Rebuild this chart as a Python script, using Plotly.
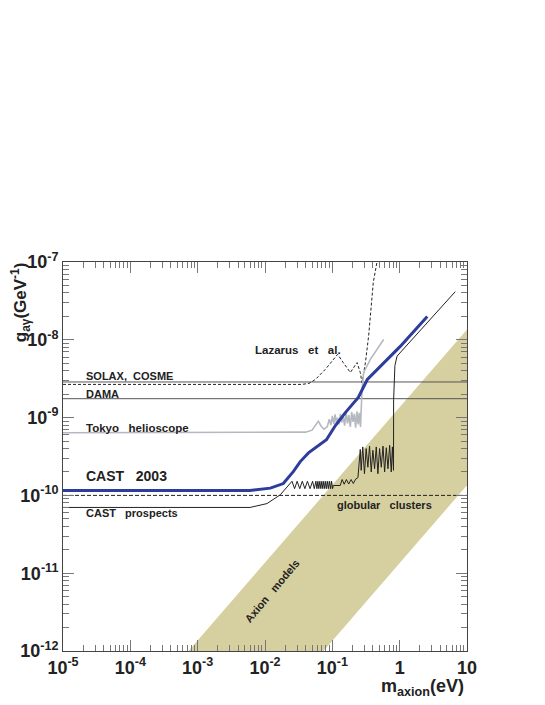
import plotly.graph_objects as go

# axion band corners (m in eV, g in GeV^-1)
band_m = [7.3e-4, 10, 10, 0.074, 7.3e-4]
band_g = [1e-12, 1.36e-8, 1.35e-10, 1e-12, 1e-12]

# horizontal limits
m_full = [1e-5, 10]
solax_g = [2.87e-9, 2.87e-9]
dama_g = [1.75e-9, 1.75e-9]
globular_g = [1.0e-10, 1.0e-10]

# Lazarus et al. (dashed)
laz_m = [1e-5, 0.035, 0.045, 0.056, 0.0785, 0.12, 0.145, 0.185, 0.233, 0.26, 0.276, 0.31, 0.346, 0.406, 0.47]
laz_g = [2.67e-9, 2.67e-9, 2.75e-9, 3.09e-9, 4.16e-9, 6.5e-9, 5.1e-9, 3.8e-9, 5.1e-9, 3.8e-9, 2.8e-9, 5.1e-9, 1.12e-8, 5.5e-8, 1.1e-7]

# Tokyo helioscope (gray)
tokyo_m = [1e-5, 0.03, 0.04, 0.05, 0.058, 0.062, 0.068, 0.075, 0.084, 0.09, 0.095, 0.1, 0.105,
           0.11, 0.115, 0.12, 0.126, 0.132, 0.138, 0.145, 0.152, 0.16, 0.168, 0.176, 0.185,
           0.194, 0.203, 0.212, 0.222, 0.232, 0.242, 0.252, 0.262, 0.27, 0.276, 0.292, 0.367, 0.578]
tokyo_g = [6.4e-10, 6.4e-10, 6.5e-10, 6.9e-10, 8.2e-10, 9.0e-10, 7.8e-10, 7.1e-10, 7.6e-10, 9.5e-10,
           8.0e-10, 1.05e-9, 8.3e-10, 1.1e-9, 8.5e-10, 1.0e-9, 8.2e-10, 1.12e-9, 8.6e-10, 1.05e-9,
           7.9e-10, 1.15e-9, 8.4e-10, 1.08e-9, 7.6e-10, 1.18e-9, 8.8e-10, 1.12e-9, 7.4e-10, 1.2e-9,
           8.2e-10, 1.15e-9, 7.6e-10, 1.3e-9, 2.3e-9, 3.8e-9, 5.6e-9, 1.01e-8]

# CAST 2003 result (blue)
cast_m = [1e-5, 6.0e-3, 0.012, 0.0187, 0.0263, 0.0334, 0.0442, 0.0817, 0.111, 0.156, 0.243, 0.331, 1.02, 2.57]
cast_g = [1.16e-10, 1.16e-10, 1.24e-10, 1.42e-10, 2.02e-10, 2.72e-10, 3.52e-10, 5.2e-10, 7.9e-10,
          1.16e-9, 1.82e-9, 3.09e-9, 8.22e-9, 2.0e-8]

# CAST prospects (thin black)
pros_m = [1e-5, 6.0e-3, 0.0107, 0.0169, 0.0252, 0.0275, 0.0300, 0.0328, 0.0358, 0.0391, 0.0427,
          0.0466, 0.0509, 0.0540, 0.0570, 0.0590, 0.0610, 0.0630, 0.0652, 0.0675, 0.0698, 0.0722,
          0.0746, 0.0772, 0.0798, 0.0825, 0.0853, 0.0882, 0.0912, 0.0943, 0.0975, 0.1008, 0.1035,
          0.131, 0.14, 0.15, 0.162, 0.175, 0.19, 0.205, 0.222, 0.24, 0.26, 0.268, 0.283, 0.30,
          0.318, 0.337, 0.357, 0.378, 0.40, 0.424, 0.449, 0.475, 0.503, 0.533, 0.565, 0.598,
          0.633, 0.67, 0.71, 0.75, 0.78, 0.81, 0.813, 0.85, 0.915, 1.12, 6.7]
pros_g = [7.0e-11, 7.0e-11, 7.85e-11, 1.02e-10, 1.52e-10, 1.22e-10, 1.52e-10, 1.22e-10, 1.52e-10,
          1.22e-10, 1.52e-10, 1.22e-10, 1.52e-10, 1.22e-10, 1.52e-10, 1.22e-10, 1.52e-10, 1.22e-10,
          1.52e-10, 1.22e-10, 1.52e-10, 1.22e-10, 1.52e-10, 1.22e-10, 1.52e-10, 1.22e-10, 1.52e-10,
          1.22e-10, 1.52e-10, 1.22e-10, 1.52e-10, 1.22e-10, 1.34e-10,
          1.34e-10, 1.6e-10, 1.39e-10, 1.6e-10, 1.4e-10, 1.6e-10, 1.42e-10, 1.62e-10, 1.69e-10,
          3.9e-10, 2.1e-10, 4.2e-10, 1.9e-10, 4.0e-10, 2.3e-10, 4.3e-10, 2.0e-10, 3.8e-10, 2.2e-10,
          4.2e-10, 1.9e-10, 4.0e-10, 2.3e-10, 4.3e-10, 2.0e-10, 4.1e-10, 2.2e-10, 4.4e-10, 2.0e-10,
          4.2e-10, 2.1e-10, 1.7e-9, 4.67e-9, 6.17e-9, 7.5e-9, 4.16e-8]

x_ticks = [1e-5, 1e-4, 1e-3, 1e-2, 1e-1, 1, 10]
x_labels = ["10<sup>-5</sup>", "10<sup>-4</sup>", "10<sup>-3</sup>", "10<sup>-2</sup>", "10<sup>-1</sup>", "1", "10"]
y_ticks = [1e-12, 1e-11, 1e-10, 1e-9, 1e-8, 1e-7]
y_labels = ["10<sup>-12</sup>", "10<sup>-11</sup>", "10<sup>-10</sup>", "10<sup>-9</sup>", "10<sup>-8</sup>", "10<sup>-7</sup>"]

FONT = "Liberation Sans"
TXT = "#222222"

fig = go.Figure()
fig.add_trace(go.Scatter(x=band_m, y=band_g, fill="toself", fillcolor="#d6cf9f",
                         mode="lines", line=dict(width=0, color="#d6cf9f"), hoverinfo="skip"))
fig.add_trace(go.Scatter(x=m_full, y=solax_g, mode="lines", line=dict(color="#555555", width=1)))
fig.add_trace(go.Scatter(x=m_full, y=dama_g, mode="lines", line=dict(color="#555555", width=1)))
fig.add_trace(go.Scatter(x=m_full, y=globular_g, mode="lines", line=dict(color="#222222", width=1, dash="4px,2px")))
fig.add_trace(go.Scatter(x=laz_m, y=laz_g, mode="lines", line=dict(color="#222222", width=1, dash="3px,2px")))
fig.add_trace(go.Scatter(x=tokyo_m, y=tokyo_g, mode="lines", line=dict(color="#b4b8c0", width=1.6)))
fig.add_trace(go.Scatter(x=pros_m, y=pros_g, mode="lines", line=dict(color="#222222", width=1)))
fig.add_trace(go.Scatter(x=cast_m, y=cast_g, mode="lines", line=dict(color="#2e3c9c", width=3)))

minor_x = [k * 10.0 ** e for e in range(-5, 1) for k in range(2, 10)]
minor_y = [k * 10.0 ** e for e in range(-12, -7) for k in range(2, 10)]

axis_common = dict(showline=True, linecolor="#444444", linewidth=1, mirror="ticks",
                   ticks="inside", ticklen=11, tickcolor="#777777", tickwidth=1,
                   showgrid=False, zeroline=False,
                   tickfont=dict(family=FONT, size=18, color=TXT, weight="bold"))

fig.update_xaxes(type="log", range=[-5, 1], tickmode="array", tickvals=x_ticks, ticktext=x_labels,
                 minor=dict(tickmode="array", tickvals=minor_x, ticks="inside", ticklen=6,
                            tickcolor="#777777", showgrid=False),
                 **axis_common)
fig.update_yaxes(type="log", range=[-12, -7], tickmode="array", tickvals=y_ticks, ticktext=y_labels,
                 minor=dict(tickmode="array", tickvals=minor_y, ticks="inside", ticklen=6,
                            tickcolor="#777777", showgrid=False),
                 **axis_common)

def label(text, x, y, size=11, xanchor="left", angle=0):
    fig.add_annotation(text=text, x=x, y=y, xref="paper", yref="paper", xanchor=xanchor,
                       yanchor="middle", showarrow=False, textangle=angle,
                       font=dict(family=FONT, size=size, color=TXT, weight="bold"))

label("SOLAX,  COSME", 0.052, 0.707)
label("DAMA", 0.052, 0.661)
label("Tokyo   helioscope", 0.052, 0.573, size=11.5)
label("CAST   2003", 0.052, 0.450, size=14)
label("CAST   prospects", 0.052, 0.355)
label("Lazarus   et   al.", 0.470, 0.774, size=11.5)
label("globular   clusters", 0.673, 0.375)
label("Axion   models", 0.517, 0.154, xanchor="center", angle=-50)
label("m<sub>axion</sub>(eV)", 0.997, -0.095, size=18, xanchor="right")
label("g<sub>aγ</sub>(GeV<sup>-1</sup>)", -0.106, 0.897, size=17, xanchor="center", angle=-90)

# page body has an 8px margin, so the figure is a little smaller than the window
fig.update_layout(width=537, height=697, margin=dict(l=55, r=78, t=254, b=54),
                  plot_bgcolor="white", paper_bgcolor="white", showlegend=False)

fig.write_html("out.html")
